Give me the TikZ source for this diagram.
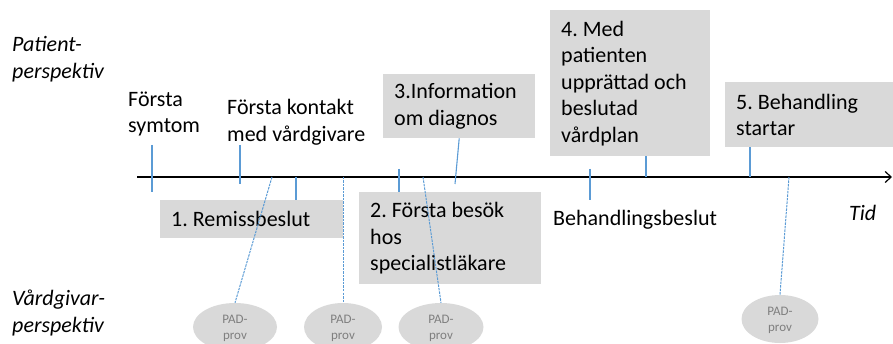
\documentclass[tikz,border=0pt]{standalone}
\usepackage{fontspec}
\setmainfont{Carlito}
\usetikzlibrary{shapes.geometric,arrows.meta}
\definecolor{rutgra}{HTML}{D9D9D9}
\definecolor{provgra}{HTML}{7F7F7F}
\definecolor{linjebla}{HTML}{5B9BD5}

\begin{document}
\frenchspacing
\begin{tikzpicture}[x=1pt, y=-1pt,
  etikett/.style={anchor=west, align=flush left, inner sep=0pt, font=\fontsize{22}{26.5}\selectfont},
  ruta/.style={etikett, anchor=north west, fill=rutgra, inner xsep=11pt, inner ysep=0pt},
  provnod/.style={ellipse, fill=rutgra, text=provgra, minimum height=48pt, inner sep=0pt, align=center, text depth=-6pt, font=\fontsize{13}{16}\selectfont},
  streck/.style={color=linjebla, line width=1.1pt},
  streckad/.style={color=linjebla, line width=1pt, dash pattern=on 2.5pt off 1pt},
  axel/.style={line width=2.5pt, -{Straight Barb[length=6pt,width=11pt,line width=1.2pt]}}]
\useasboundingbox (0,0) rectangle (893,344);
%
\node[etikett,font=\fontsize{22}{26.5}\selectfont\itshape] (pat) at (12,59)  {Patient-\\perspektiv};
\node[etikett,font=\fontsize{22}{26.5}\selectfont\itshape] (vrd) at (12,313) {Vårdgivar-\\perspektiv};
\node[etikett,font=\fontsize{22}{26.5}\selectfont\itshape] (tid) at (849,213) {Tid};
%
\node[etikett] (sym) at (128,114)   {Första\\symtom};
\node[etikett] (kon) at (227,122.5) {Första kontakt\\med vårdgivare};
\node[etikett] (bsl) at (553,220)   {Behandlingsbeslut};
%
\node[ruta,text width=161pt,minimum height=38pt]  (rem)   at (160,200) {1. Remissbeslut};
\node[ruta,text width=160pt,minimum height=92pt]  (bes)   at (359,192) {2. Första besök\\hos\\specialistläkare};
\node[ruta,text width=130pt,minimum height=64pt]  (inf)   at (383,74)  {3.Information\\om diagnos};
\node[ruta,text width=138pt,minimum height=146pt] (plan)  at (550,10)  {4. Med\\patienten\\upprättad och\\beslutad\\vårdplan};
\node[ruta,text width=146pt,minimum height=65pt]  (start) at (725,82)  {5. Behandling\\startar};
%
\node[provnod,minimum width=84pt] (pad1) at (235,327) {PAD-\\prov};
\node[provnod,minimum width=78pt] (pad2) at (343,327) {PAD-\\prov};
\node[provnod,minimum width=85pt] (pad3) at (441,327) {PAD-\\prov};
\node[provnod,minimum width=77pt] (pad4) at (780,319) {PAD-\\prov};
%
\coordinate (ax0) at (137,177);
\coordinate (ax1) at (892,177);
\coordinate (sym1) at (152,145);
\coordinate (sym2) at (152,192);
\coordinate (kon1) at (240,145);
\coordinate (kon2) at (240,184);
\coordinate (rem1) at (296,177);
\coordinate (bes1) at (399,169);
\coordinate (inf1) at (455,184);
\coordinate (bsl1) at (590,169);
\coordinate (bsl2) at (590,200);
\coordinate (plan1) at (646,177);
\coordinate (start1) at (750,177);
\coordinate (pad1a) at (272,177);
\coordinate (pad2a) at (343,177);
\coordinate (pad3a) at (423,177);
\coordinate (pad4a) at (789,177);
%
\draw[axel] (ax0) -- (ax1);
%
\path[streck]
	(sym1) edge (sym2)
	(kon1) edge (kon2)
	(rem1) edge (rem1 |- rem.north)
	(bes1) edge (bes1 |- bes.north)
	(inf.south) edge (inf1)
	(bsl1) edge (bsl2)
	(plan1) edge (plan1 |- plan.south)
	(start1) edge (start1 |- start.south)
;
\path[streckad]
	(pad1a) edge (pad1.north)
	(pad2a) edge (pad2.north)
	(pad3a) edge (pad3.north)
	(pad4a) edge (pad4.north)
;
\end{tikzpicture}
\end{document}
